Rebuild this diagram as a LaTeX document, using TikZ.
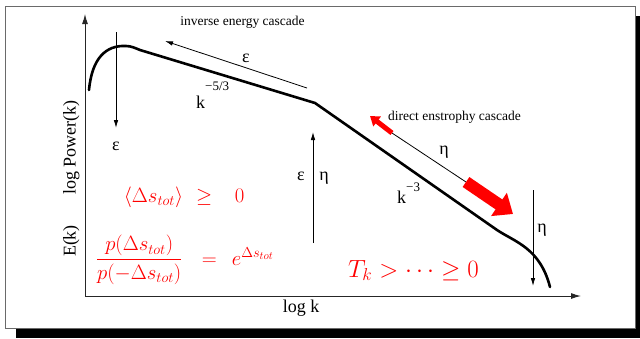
\documentclass[tikz,border=0pt]{standalone}
\usepackage{amsmath}
\usepackage[no-math]{fontspec}
\setmainfont{Liberation Serif}
\usepackage{xcolor}
\usepackage{tikz}
\usetikzlibrary{
  arrows.meta,
  positioning,
}
\definecolor{framegray}{HTML}{6A6A6A}
\definecolor{cascred}{HTML}{FF0000}

\begin{document}
\begin{tikzpicture}[x=1pt, y=-1pt,
  thinarrow/.style={line width=0.8pt, -{Latex[length=8pt,width=4.5pt]}},
  axisarrow/.style={line width=1pt, draw=black!85, -{Latex[length=10pt,width=6pt]}},
  biglbl/.style={font=\fontsize{18}{20}\selectfont, inner sep=0pt},
  smalllbl/.style={font=\fontsize{13.5}{15}\selectfont, inner sep=0pt},
  redmath/.style={text=cascred, font=\fontsize{21}{25}\selectfont, inner sep=0pt},
]
  \useasboundingbox (0,0) rectangle (640,338);
  % frame with shadow
  \fill[black] (16,16) rectangle (640,338);
  \draw[framegray, fill=white, line width=0.8pt] (5,6) rectangle (635,328);
  % axes
  \coordinate (O) at (85,296);
  \coordinate (ytop) at (85,14);
  \coordinate (xend) at (581,296);
  \draw[axisarrow] (O) -- (ytop);
  \draw[axisarrow] (O) -- (xend);
  % spectrum
  \draw[line width=2.6pt, line cap=round]
    (89,90) .. controls (92,58) and (106,45) .. (126,46)
    .. controls (131,46) and (135,48) .. (140,50)
    -- (315,103) -- (497,230)
    .. controls (515,242) and (540,248) .. (550,287);
  % forcing and dissipation
  \coordinate (fin) at (116,32);
  \coordinate (fout) at (116,128);
  \draw[thinarrow] (fin) -- (fout);
  \coordinate (mbot) at (313,243);
  \coordinate (mtop) at (313,132);
  \draw[thinarrow] (mbot) -- (mtop);
  \coordinate (din) at (533,190);
  \coordinate (dout) at (533,286);
  \draw[thinarrow] (din) -- (dout);
  % inverse cascade
  \coordinate (invA) at (307,88);
  \coordinate (invB) at (165,41);
  \draw[thinarrow] (invA) -- (invB);
  % direct cascade
  \coordinate (dirA) at (392,133);
  \coordinate (dirB) at (370,116);
  \coordinate (dirC) at (466,182);
  \coordinate (dirD) at (513,214);
  \draw[line width=0.8pt] (dirA) -- (dirC);
  \draw[cascred, line width=5pt, -{Triangle[length=9pt,width=12pt]}] (dirA) -- (dirB);
  \draw[cascred, line width=12pt, -{Triangle[length=17pt,width=27pt]}] (dirC) -- (dirD);
  % labels
  \node[smalllbl, anchor=base] (invtxt) at (242.5,25) {inverse energy cascade};
  \node[smalllbl, anchor=base] (dirtxt) at (454.5,120) {direct enstrophy cascade};
  \node[biglbl, anchor=base] (epsf) at (116,150) {ε};
  \node[biglbl, anchor=base] (epsinv) at (246,62) {ε};
  \node[biglbl, anchor=base] (epsm) at (301,180) {ε};
  \node[biglbl, anchor=base] (etam) at (324,180) {η};
  \node[biglbl, anchor=base] (etadir) at (444,154) {η};
  \node[biglbl, anchor=base] (etad) at (542,232) {η};
  \node[biglbl, anchor=base west] (kfive) at (196,108)
    {k\raisebox{18pt}{\fontsize{13}{13}\selectfont −5/3}};
  \node[biglbl, anchor=base west] (kthree) at (397,203)
    {k\raisebox{12pt}{\fontsize{13}{13}\selectfont −3}};
  \node[biglbl, anchor=base] (xlbl) at (301,312) {log k};
  \node[biglbl, anchor=base, rotate=90] (ylbl) at (75.5,147.5) {log Power(k)};
  \node[biglbl, anchor=base, rotate=90] (elbl) at (75.5,241) {E(k)};
  % relations
  \node[redmath, anchor=base west] (avgds) at (123.7,202)
    {$\langle\Delta s_{tot}\rangle$\hspace{13.2pt}$\geq$\hspace{22.4pt}$0$};
  \node[redmath, anchor=base west] (fluct) at (95.8,265)
    {$\dfrac{p(\Delta s_{tot})}{p(-\Delta s_{tot})}$\hspace{19.5pt}$=$\hspace{15pt}$e^{\Delta s_{tot}}$};
  \node[redmath, font=\fontsize{27}{31}\selectfont, anchor=base west] (tk) at (348,277)
    {$T_k > \cdots \geq 0$};
\end{tikzpicture}
\end{document}
